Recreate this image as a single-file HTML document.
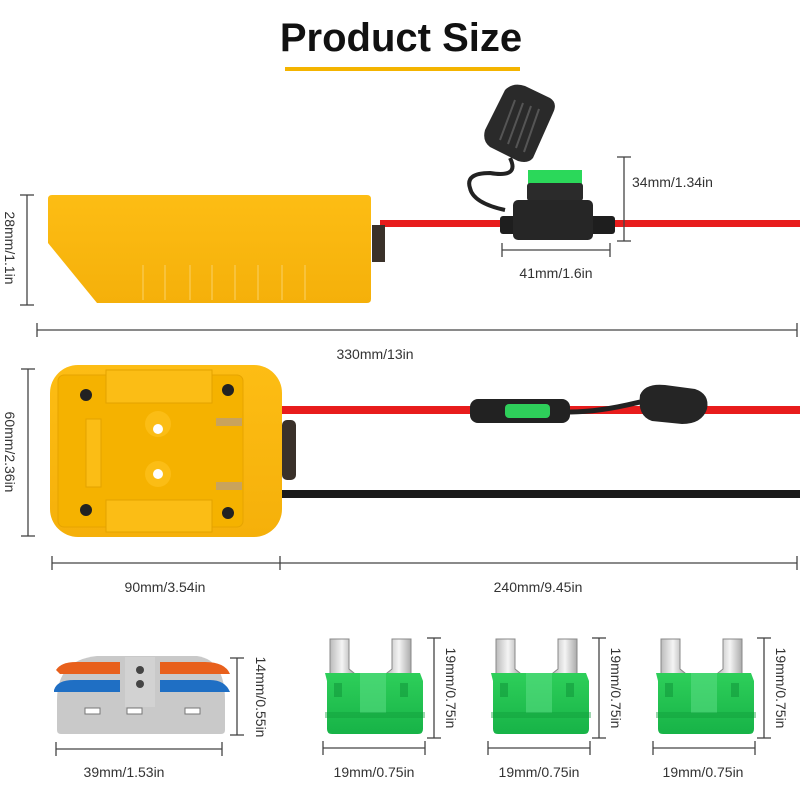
<!DOCTYPE html>
<html><head><meta charset="utf-8"><style>
html,body{margin:0;padding:0;background:#fff;}
svg{display:block;}
text{font-family:"Liberation Sans",sans-serif;fill:#333;}
</style></head><body>
<svg width="800" height="800" viewBox="0 0 800 800" xmlns="http://www.w3.org/2000/svg">
<defs>
<linearGradient id="yel" x1="0" y1="0" x2="0" y2="1"><stop offset="0" stop-color="#fdbd14"/><stop offset="1" stop-color="#f5b00a"/></linearGradient>
<linearGradient id="grn" x1="0" y1="0" x2="0" y2="1"><stop offset="0" stop-color="#2ecf5a"/><stop offset="1" stop-color="#17b347"/></linearGradient>
<linearGradient id="blade" x1="0" y1="0" x2="1" y2="0"><stop offset="0" stop-color="#bbb"/><stop offset=".5" stop-color="#f4f4f4"/><stop offset="1" stop-color="#aaa"/></linearGradient>
<g id="fuse">
 <path d="M0,2 h19 v30 l5,4 v10 h-24z" fill="url(#blade)" stroke="#888" stroke-width="1"/>
 <path d="M62,2 h19 v44 h-24 v-10 l5,-4z" fill="url(#blade)" stroke="#888" stroke-width="1"/>
 <path d="M-5,36 h95 l3,8 v48 q0,5 -5,5 h-86 q-5,0 -5,-5 v-48z" fill="url(#grn)"/>
 <rect x="4" y="46" width="8" height="14" fill="#139a3c" opacity=".6"/>
 <rect x="70" y="46" width="8" height="14" fill="#139a3c" opacity=".6"/>
 <rect x="30" y="36" width="26" height="40" fill="#5fe08a" opacity=".5"/>
 <rect x="-5" y="75" width="100" height="6" fill="#0f9a3a" opacity=".4"/>
</g>
</defs>

<text x="401" y="51" font-size="40" font-weight="bold" text-anchor="middle" fill="#111" style="fill:#111">Product Size</text>
<rect x="285" y="67" width="235" height="4" fill="#f4b400"/>

<!-- top view -->
<rect x="380" y="220" width="420" height="7" fill="#e81c1c"/>
<path d="M48,199 q0,-4 4,-4 h315 q4,0 4,4 v100 q0,4 -4,4 h-270 l-49,-60z" fill="url(#yel)"/>
<g stroke="#f8c23a" stroke-width="2">
<line x1="143" y1="265" x2="143" y2="300"/><line x1="165" y1="265" x2="165" y2="300"/><line x1="190" y1="265" x2="190" y2="300"/><line x1="212" y1="265" x2="212" y2="300"/><line x1="235" y1="265" x2="235" y2="300"/><line x1="258" y1="265" x2="258" y2="300"/><line x1="282" y1="265" x2="282" y2="300"/><line x1="305" y1="265" x2="305" y2="300"/>
</g>
<rect x="372" y="225" width="13" height="37" fill="#3a312a"/>
<!-- fuse holder top -->
<path d="M510,158 q10,20 -20,15 q-25,0 -20,15 q3,15 35,22" fill="none" stroke="#222" stroke-width="4"/>
<path d="M485,130 l20,-40 q8,-8 20,-4 l25,12 q8,5 3,15 l-20,45 q-5,6 -15,3 l-28,-14 q-8,-6 -5,-17z" fill="#2a2a2a"/>
<g stroke="#555" stroke-width="2"><line x1="515" y1="100" x2="500" y2="140"/><line x1="523" y1="103" x2="508" y2="144"/><line x1="531" y1="106" x2="516" y2="148"/><line x1="539" y1="109" x2="524" y2="152"/></g>
<rect x="528" y="170" width="54" height="15" fill="#2bd85a"/>
<rect x="527" y="183" width="56" height="18" rx="3" fill="#2b2b2b"/>
<rect x="500" y="216" width="115" height="18" rx="3" fill="#1e1e1e"/>
<rect x="513" y="200" width="80" height="40" rx="5" fill="#262626"/>

<!-- dims top -->
<g stroke="#444" stroke-width="1.3" fill="none">
<line x1="27" y1="195" x2="27" y2="305"/><line x1="20" y1="195" x2="34" y2="195"/><line x1="20" y1="305" x2="34" y2="305"/>
<line x1="624" y1="157" x2="624" y2="241"/><line x1="617" y1="157" x2="631" y2="157"/><line x1="617" y1="241" x2="631" y2="241"/>
<line x1="502" y1="250" x2="610" y2="250"/><line x1="502" y1="243" x2="502" y2="257"/><line x1="610" y1="243" x2="610" y2="257"/>
<line x1="37" y1="330" x2="797" y2="330"/><line x1="37" y1="323" x2="37" y2="337"/><line x1="797" y1="323" x2="797" y2="337"/>
</g>
<text x="0" y="0" font-size="14" text-anchor="middle" transform="translate(5,248) rotate(90)">28mm/1.1in</text>
<text x="632" y="187" font-size="14">34mm/1.34in</text>
<text x="556" y="278" font-size="14" text-anchor="middle">41mm/1.6in</text>
<text x="375" y="359" font-size="14" text-anchor="middle">330mm/13in</text>

<!-- middle view -->
<rect x="282" y="406" width="518" height="8" fill="#e81c1c"/>
<rect x="282" y="490" width="518" height="8" fill="#1a1a1a"/>
<rect x="470" y="399" width="100" height="24" rx="8" fill="#222"/>
<rect x="505" y="404" width="45" height="14" rx="4" fill="#2ecf5a"/>
<path d="M570,412 q30,0 70,-10" stroke="#222" stroke-width="5" fill="none"/>
<path d="M640,395 q5,-12 25,-10 l30,4 q15,5 12,20 q-5,15 -25,15 l-30,-3 q-15,-5 -12,-26z" fill="#252525"/>
<rect x="282" y="420" width="14" height="60" rx="5" fill="#3a312a"/>
<rect x="50" y="365" width="232" height="172" rx="28" fill="url(#yel)"/>
<rect x="58" y="375" width="185" height="152" rx="6" fill="#f5b200" stroke="#e6a400" stroke-width="1"/>
<rect x="106" y="370" width="106" height="33" fill="#fbbd15" stroke="#e3a200" stroke-width="1"/>
<rect x="106" y="500" width="106" height="32" fill="#fbbd15" stroke="#e3a200" stroke-width="1"/>
<rect x="86" y="419" width="15" height="68" fill="#fbbd15" stroke="#e3a200"/>
<circle cx="158" cy="424" r="13" fill="#fbbd15"/><circle cx="158" cy="429" r="5" fill="#fff"/>
<circle cx="158" cy="474" r="13" fill="#fbbd15"/><circle cx="158" cy="474" r="5" fill="#fff"/>
<g fill="#222"><circle cx="86" cy="395" r="6"/><circle cx="228" cy="390" r="6"/><circle cx="86" cy="510" r="6"/><circle cx="228" cy="513" r="6"/></g>
<rect x="216" y="418" width="26" height="8" fill="#c9a35c"/>
<rect x="216" y="482" width="26" height="8" fill="#c9a35c"/>

<g stroke="#444" stroke-width="1.3" fill="none">
<line x1="28" y1="369" x2="28" y2="536"/><line x1="21" y1="369" x2="35" y2="369"/><line x1="21" y1="536" x2="35" y2="536"/>
<line x1="52" y1="563" x2="797" y2="563"/><line x1="52" y1="556" x2="52" y2="570"/><line x1="280" y1="556" x2="280" y2="570"/><line x1="797" y1="556" x2="797" y2="570"/>
</g>
<text x="0" y="0" font-size="14" text-anchor="middle" transform="translate(5,452) rotate(90)">60mm/2.36in</text>
<text x="165" y="592" font-size="14" text-anchor="middle">90mm/3.54in</text>
<text x="538" y="592" font-size="14" text-anchor="middle">240mm/9.45in</text>

<!-- connector -->
<path d="M57,700 q0,-40 40,-44 h100 q28,4 28,44 v30 q0,4 -4,4 h-160 q-4,0 -4,-4z" fill="#c9c9c9"/>
<rect x="125" y="657" width="30" height="50" fill="#d2d2d2"/>
<circle cx="140" cy="670" r="4" fill="#444"/><circle cx="140" cy="684" r="4" fill="#444"/>
<path d="M56,670 q5,-8 20,-8 h44 v12 h-60z" fill="#e8601c"/>
<path d="M160,662 h45 q20,0 25,12 h-70z" fill="#e8601c"/>
<path d="M54,690 q3,-10 20,-10 h46 v12 h-66z" fill="#1f6fc4"/>
<path d="M160,680 h50 q15,0 20,12 h-70z" fill="#1f6fc4"/>
<rect x="85" y="708" width="15" height="6" fill="#fff" stroke="#777"/><rect x="127" y="708" width="15" height="6" fill="#fff" stroke="#777"/><rect x="185" y="708" width="15" height="6" fill="#fff" stroke="#777"/>

<!-- fuses -->
<use href="#fuse" x="330" y="637"/>
<use href="#fuse" x="496" y="637"/>
<use href="#fuse" x="661" y="637"/>

<g stroke="#444" stroke-width="1.3" fill="none">
<line x1="237" y1="658" x2="237" y2="735"/><line x1="230" y1="658" x2="244" y2="658"/><line x1="230" y1="735" x2="244" y2="735"/>
<line x1="56" y1="749" x2="222" y2="749"/><line x1="56" y1="742" x2="56" y2="756"/><line x1="222" y1="742" x2="222" y2="756"/>
<line x1="434" y1="638" x2="434" y2="738"/><line x1="427" y1="638" x2="441" y2="638"/><line x1="427" y1="738" x2="441" y2="738"/>
<line x1="323" y1="748" x2="425" y2="748"/><line x1="323" y1="741" x2="323" y2="755"/><line x1="425" y1="741" x2="425" y2="755"/>
<line x1="599" y1="638" x2="599" y2="738"/><line x1="592" y1="638" x2="606" y2="638"/><line x1="592" y1="738" x2="606" y2="738"/>
<line x1="488" y1="748" x2="590" y2="748"/><line x1="488" y1="741" x2="488" y2="755"/><line x1="590" y1="741" x2="590" y2="755"/>
<line x1="764" y1="638" x2="764" y2="738"/><line x1="757" y1="638" x2="771" y2="638"/><line x1="757" y1="738" x2="771" y2="738"/>
<line x1="653" y1="748" x2="755" y2="748"/><line x1="653" y1="741" x2="653" y2="755"/><line x1="755" y1="741" x2="755" y2="755"/>
</g>
<text x="0" y="0" font-size="14" text-anchor="middle" transform="translate(256,697) rotate(90)">14mm/0.55in</text>
<text x="0" y="0" font-size="14" text-anchor="middle" transform="translate(446,688) rotate(90)">19mm/0.75in</text>
<text x="0" y="0" font-size="14" text-anchor="middle" transform="translate(611,688) rotate(90)">19mm/0.75in</text>
<text x="0" y="0" font-size="14" text-anchor="middle" transform="translate(776,688) rotate(90)">19mm/0.75in</text>
<text x="124" y="777" font-size="14" text-anchor="middle">39mm/1.53in</text>
<text x="374" y="777" font-size="14" text-anchor="middle">19mm/0.75in</text>
<text x="539" y="777" font-size="14" text-anchor="middle">19mm/0.75in</text>
<text x="703" y="777" font-size="14" text-anchor="middle">19mm/0.75in</text>
</svg>
</body></html>
